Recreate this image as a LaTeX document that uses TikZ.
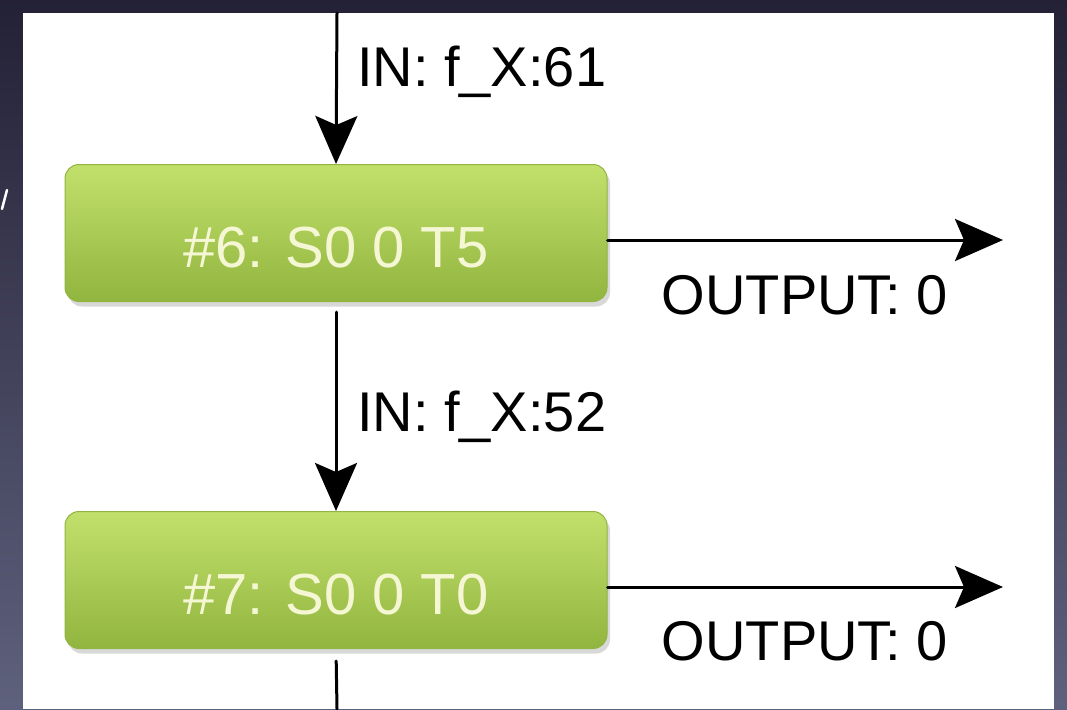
\documentclass[tikz,border=0pt]{standalone}
\usepackage{fontspec}
\setmainfont{Liberation Sans}
\usetikzlibrary{arrows.meta,shadows}
\definecolor{zzzzqq}{rgb}{0.76,0.88,0.42}
\definecolor{wwccqq}{rgb}{0.65,0.78,0.31}
\definecolor{wwbbqq}{rgb}{0.57,0.71,0.25}
\definecolor{qqqqtt}{rgb}{0.14,0.13,0.21}
\definecolor{wwwwbb}{rgb}{0.37,0.38,0.49}
\definecolor{ffffee}{rgb}{0.96,0.97,0.83}
\begin{document}
\begin{tikzpicture}[line cap=round,line join=round,>={Stealth[length=48pt,width=42pt,inset=9pt]},x=1pt,y=-1pt,
	statebox/.style={rounded corners=14pt,minimum width=542pt,minimum height=137pt,top color=zzzzqq,middle color=wwccqq,bottom color=wwbbqq,draw=wwbbqq,line width=1pt,text=ffffee,font=\fontsize{58}{60}\selectfont,text height=68pt,text depth=0pt,drop shadow={shadow xshift=3pt,shadow yshift=-5pt,opacity=0.3}},
	flow/.style={->,line width=3pt},
	lbl/.style={font=\fontsize{56}{60}\selectfont,inner sep=0pt}]
	\useasboundingbox (0,0) rectangle (1067,709);
	\shade [top color=qqqqtt,bottom color=wwwwbb] (0,0) rectangle (1067,709);
	\fill [color=white] (23,13) rectangle (1054,709);
	\draw [color=white,line width=2.5pt] (7,190) -- (2,209);
	% the two states
	\node [statebox] (s6) at (336,233) {\#6: S0 0 T5};
	\node [statebox] (s7) at (336,580) {\#7: S0 0 T0};
	\coordinate (top) at (337,13);
	\coordinate (bot) at (337,709);
	\coordinate (o6) at (1003,240);
	\coordinate (o7) at (1003,587);
	\draw [flow] (top) -- (s6.north);
	\draw [flow,shorten <=10pt] (s6.south) -- (s7.north);
	\draw [line width=3pt,shorten <=12pt] (s7.south) -- (bot);
	\draw [flow] (s6.east |- o6) -- (o6);
	\draw [flow] (s7.east |- o7) -- (o7);
	% labels
	\node [lbl,anchor=west] (in6) at (357,72) {IN: f\_X:61};
	\node [lbl,anchor=west] (in7) at (357,417) {IN: f\_X:52};
	\node [lbl] (out6) at (805,295) {OUTPUT: 0};
	\node [lbl] (out7) at (805,641) {OUTPUT: 0};
\end{tikzpicture}
\end{document}
